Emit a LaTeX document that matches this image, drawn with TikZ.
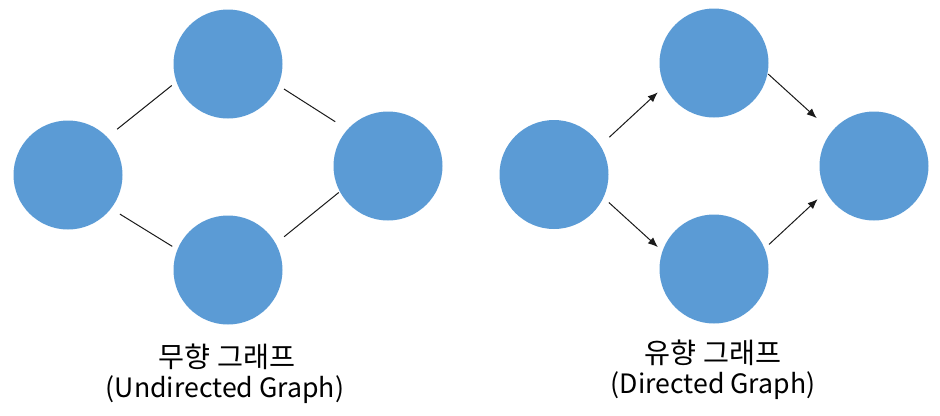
\documentclass[tikz,border=0pt]{standalone}
\usepackage{fontspec}
\newfontfamily\krfont{Noto Sans CJK KR}
\usetikzlibrary{arrows.meta}
\definecolor{nodeblue}{HTML}{5B9BD5}
\definecolor{edgegray}{HTML}{1A1A1A}
\begin{document}
\begin{tikzpicture}[x=0.75pt,y=-0.75pt,
  vertex/.style={circle,fill=nodeblue,draw=none,minimum size=81.75pt,inner sep=0pt,outer sep=0pt},
  edge/.style={draw=edgegray,line width=0.75pt},
  arc/.style={edge,-{Latex[length=7.5pt,width=6pt]}},
  caption/.style={font=\krfont\fontsize{20pt}{24pt}\selectfont,inner sep=0pt,anchor=center},
  kcaption/.style={font=\krfont\fontsize{21.2pt}{25pt}\selectfont,inner sep=0pt,anchor=center}]
\useasboundingbox (0,0) rectangle (940,415);
% undirected graph
\node[vertex] (L) at (68,175) {};
\node[vertex] (T) at (228,64) {};
\node[vertex] (R) at (388,166) {};
\node[vertex] (B) at (228,270) {};
\draw[edge,shorten <=9.5pt,shorten >=4.5pt] (L.44.4) -- (T.199.6);
\draw[edge,shorten <=5.2pt,shorten >=10.9pt] (T.337.1) -- (R.138.5);
\draw[edge,shorten <=7.9pt,shorten >=4.6pt] (L.322.2) -- (B.158.8);
\draw[edge,shorten <=8.2pt,shorten >=1pt] (B.29.9) -- (R.208.6);
% directed graph
\node[vertex] (L2) at (554,174.5) {};
\node[vertex] (T2) at (714,63) {};
\node[vertex] (R2) at (874,166) {};
\node[vertex] (B2) at (714,269) {};
\draw[arc,shorten <=9.3pt,shorten >=7pt] (L2.32.7) -- (T2.205);
\draw[arc,shorten <=0.8pt,shorten >=15.1pt] (T2.349.1) -- (R2.141.3);
\draw[arc,shorten <=5.6pt,shorten >=4.6pt] (L2.335.4) -- (B2.161.7);
\draw[arc,shorten <=4.6pt,shorten >=8.4pt] (B2.22.4) -- (R2.208.2);
% captions
\node[kcaption] (c1) at (227,357) {무향 그래프};
\node[caption] (c2) at (225,390) {(Undirected Graph)};
\node[kcaption] (c3) at (713,353) {유향 그래프};
\node[caption] (c4) at (713,386) {(Directed Graph)};
\end{tikzpicture}
\end{document}
